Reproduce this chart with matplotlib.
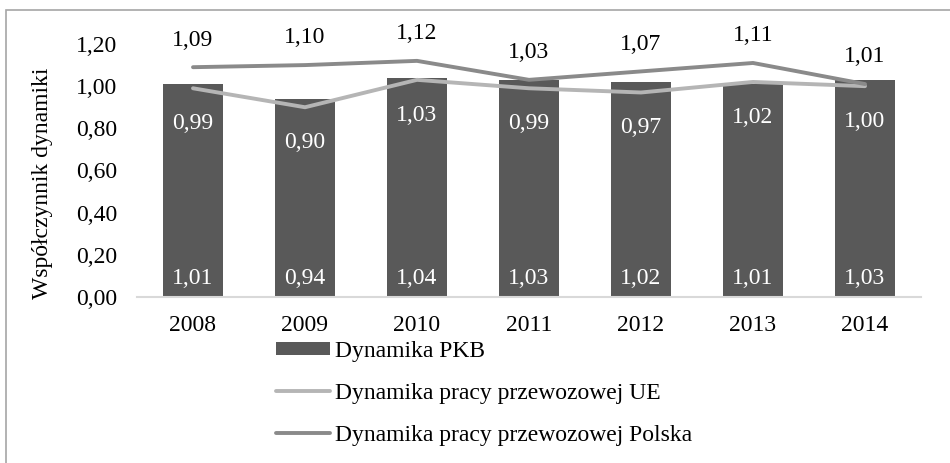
import matplotlib
matplotlib.use("Agg")
import matplotlib.pyplot as plt
import numpy as np
from matplotlib.patches import Rectangle

years = ["2008", "2009", "2010", "2011", "2012", "2013", "2014"]
pkb = [1.01, 0.94, 1.04, 1.03, 1.02, 1.01, 1.03]
ue = [0.99, 0.90, 1.03, 0.99, 0.97, 1.02, 1.00]
polska = [1.09, 1.10, 1.12, 1.03, 1.07, 1.11, 1.01]
yticks = [0.0, 0.2, 0.4, 0.6, 0.8, 1.0, 1.2]

plt.rcParams['font.family'] = ['Liberation Serif', 'DejaVu Serif']
FS = 17

W, H = 950, 463
fig = plt.figure(figsize=(W / 100, H / 100), dpi=100)

# outer border (left and top visible, others cut off)
fig.patches.append(Rectangle((6 / W, -0.05), 1.1, 1 - 10 / H + 0.05, transform=fig.transFigure,
                             fill=False, edgecolor='#a6a6a6', linewidth=1.2))

ax = fig.add_axes([137 / W, (H - 297) / H, (921 - 137) / W, (297 - 44) / H])
x = np.arange(len(years))

c_bar = '#595959'
c_ue = '#b5b5b5'
c_pl = '#8a8a8a'

bars = ax.bar(x, pkb, width=0.54, color=c_bar, label='Dynamika PKB', zorder=2)
l_ue, = ax.plot(x, ue, color=c_ue, linewidth=2.8, label='Dynamika pracy przewozowej UE', zorder=3,
                solid_capstyle='round', clip_on=False)
l_pl, = ax.plot(x, polska, color=c_pl, linewidth=2.8, label='Dynamika pracy przewozowej Polska', zorder=3,
                solid_capstyle='round', clip_on=False)

fmt = lambda v: f"{v:.2f}".replace('.', ',')

for xi, v in zip(x, pkb):
    ax.annotate(fmt(v), (xi, 0), xytext=(0, 6), textcoords='offset points',
                ha='center', va='bottom', color='white', fontsize=FS)
for xi, v in zip(x, ue):
    ax.annotate(fmt(v), (xi, v), xytext=(0, -18), textcoords='offset points',
                ha='center', va='top', color='white', fontsize=FS)
for xi, v in zip(x, polska):
    ax.annotate(fmt(v), (xi, v), xytext=(0, 12), textcoords='offset points',
                ha='center', va='bottom', color='black', fontsize=FS, annotation_clip=False)

ax.set_xlim(-0.5, len(years) - 0.5)
ax.set_ylim(0, 1.2)
ax.set_yticks(yticks)
ax.set_yticklabels([fmt(v) for v in yticks], fontsize=FS)
ax.set_xticks(x)
ax.set_xticklabels(years, fontsize=FS)
ax.tick_params(axis='x', length=0, pad=13)
ax.tick_params(axis='y', length=0, pad=14)
for s in ['top', 'right', 'left']:
    ax.spines[s].set_visible(False)
ax.spines['bottom'].set_color('#d9d9d9')
ax.spines['bottom'].set_linewidth(1.5)
ax.spines['bottom'].set_zorder(4)

fig.text(43 / W, (H - 183) / H, 'Współczynnik dynamiki', rotation=90, ha='center', va='center', fontsize=FS)

fig.legend(handles=[bars, l_ue, l_pl], loc='upper left', bbox_to_anchor=(276 / W, 1 - 341 / H),
           frameon=False, fontsize=FS, handlelength=2.3, handleheight=0.5, handletextpad=0.2,
           labelspacing=0.89, borderaxespad=0, borderpad=0)

fig.savefig('out.png', dpi=100)
